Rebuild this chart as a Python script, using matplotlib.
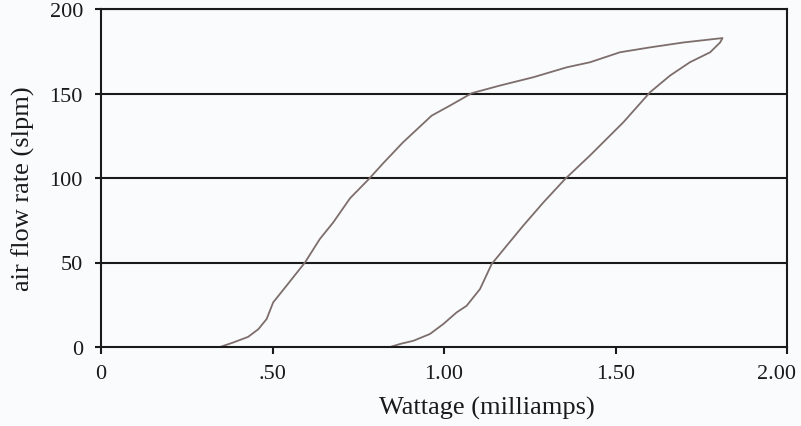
import matplotlib
matplotlib.use("Agg")
import matplotlib.pyplot as plt
from matplotlib.transforms import ScaledTranslation

# Hysteresis loop: rising (left) branch then falling (right) branch
rise_x = [0.347, 0.386, 0.429, 0.459, 0.483, 0.502, 0.541, 0.595, 0.638, 0.677, 0.726,
          0.781, 0.823, 0.880, 0.964, 1.017, 1.081, 1.163, 1.260, 1.358, 1.426, 1.513,
          1.601, 1.698, 1.812]
rise_y = [0.0, 2.7, 6.0, 10.6, 16.6, 26.4, 36.3, 50.1, 63.9, 73.7, 88.0,
          99.4, 108.8, 121.0, 136.9, 142.8, 150.2, 154.7, 159.6, 165.5, 168.5, 174.4,
          177.3, 180.2, 182.8]
fall_x = [1.805, 1.776, 1.717, 1.659, 1.601, 1.523, 1.426, 1.353, 1.290, 1.231, 1.183,
          1.139, 1.105, 1.066, 1.037, 0.998, 0.959, 0.911, 0.872, 0.843]
fall_y = [180.2, 174.4, 168.5, 160.6, 150.8, 133.0, 113.4, 99.4, 85.6, 71.8, 60.0,
          49.1, 34.3, 24.4, 20.5, 13.6, 7.7, 3.7, 1.8, 0.0]

x_ticks = [0, 0.5, 1.0, 1.5, 2.0]
x_labels = ["0", ".50", "1.00", "1.50", "2.00"]
y_ticks = [0, 50, 100, 150, 200]
y_labels = ["0", "50", "100", "150", "200"]

plt.rcParams['font.family'] = ['Liberation Serif', 'DejaVu Serif']

fig = plt.figure(figsize=(8.01, 4.27), dpi=100)
fig.patch.set_facecolor('#fafbfd')
ax = fig.add_axes([101/801, 1 - 348/427, (787 - 101)/801, (348 - 10)/427])
ax.set_facecolor('#fafbfd')

ax.plot(rise_x + fall_x, rise_y + fall_y, color='#7d6e6c', lw=1.3)

ax.set_xlim(0, 2.0)
ax.set_ylim(0, 200)
ax.set_xticks(x_ticks)
ax.set_xticklabels(x_labels)
ax.set_yticks(y_ticks)
ax.set_yticklabels(y_labels)
for yv in y_ticks[1:]:
    ax.axhline(yv, color='#1a1a1a', lw=1.5, zorder=1)

for s in ax.spines.values():
    s.set_color('#1a1a1a')
    s.set_linewidth(1.5)

ax.tick_params(axis='both', colors='#1a1a1a', labelsize=16, width=1.5, direction='out')
ax.tick_params(axis='x', length=5, pad=7)
ax.tick_params(axis='y', length=4.5, pad=8.5)

# last x tick label sits shifted left, inside the figure, as in the reference
last = ax.get_xticklabels()[-1]
last.set_transform(last.get_transform() + ScaledTranslation(-0.11, 0, fig.dpi_scale_trans))

ax.set_xlabel("Wattage (milliamps)", fontsize=19, color='#1a1a1a')
ax.xaxis.label.set_verticalalignment('baseline')
ax.xaxis.set_label_coords((487 - 101) / 686, (348 - 415) / 338)
ax.set_ylabel("air flow rate (slpm)", fontsize=19, color='#1a1a1a')
ax.yaxis.label.set_verticalalignment('center')
ax.yaxis.label.set_horizontalalignment('center')
ax.yaxis.set_label_coords((23 - 101) / 686, (348 - 189) / 338)

fig.savefig("out.png", dpi=100, facecolor=fig.get_facecolor())
